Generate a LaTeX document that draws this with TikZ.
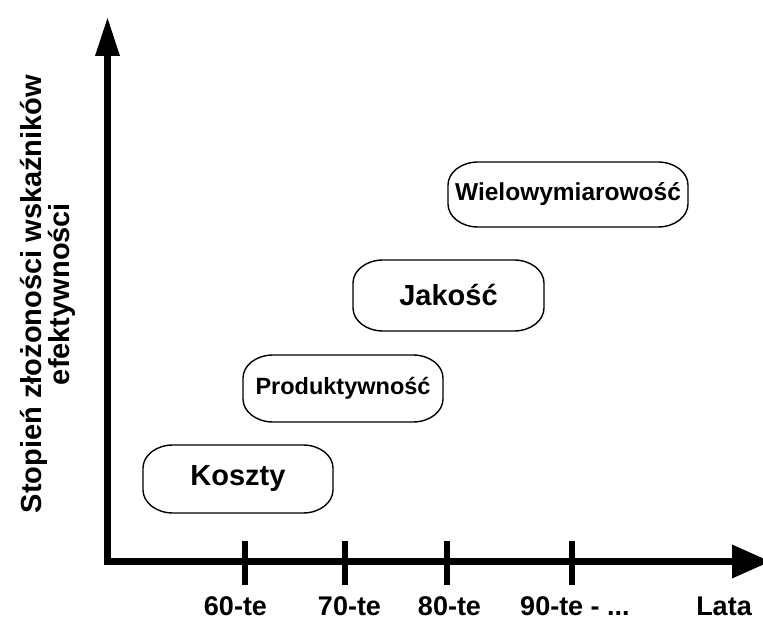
\documentclass[tikz,border=0pt]{standalone}
\usepackage{fontspec}
\setmainfont{Liberation Sans}
\usetikzlibrary{arrows.meta,calc}

% rounded box outline with elliptical corners: node, x radius, y radius
\newcommand\pilloutline[3]{%
  \draw[pillline] ($(#1.north west)+(#2,0)$) -- ($(#1.north east)+(-#2,0)$)
    arc[start angle=90,end angle=0,x radius=#2,y radius=#3]
    -- ($(#1.south east)+(0,#3)$)
    arc[start angle=0,end angle=-90,x radius=#2,y radius=#3]
    -- ($(#1.south west)+(#2,0)$)
    arc[start angle=270,end angle=180,x radius=#2,y radius=#3]
    -- ($(#1.north west)+(0,-#3)$)
    arc[start angle=180,end angle=90,x radius=#2,y radius=#3]
    -- cycle;}

\begin{document}
\begin{tikzpicture}[x=1pt,y=1pt,
  axis/.style={line width=7pt, line join=miter},
  tickmark/.style={line width=6pt},
  pill/.style={inner sep=0pt, outer sep=0pt},
  pillline/.style={line width=1.4pt},
  axislabel/.style={anchor=base, inner sep=0pt, font=\bfseries\fontsize{27}{28}\selectfont},
]
\useasboundingbox (0,0) rectangle (763,622);
\clip (0,0) rectangle (763,622);

% axes
\coordinate (origin) at (107.5,60.5);
\coordinate (ytip) at (107.5,604);
\coordinate (xtip) at (770,60.5);
\draw[axis, {Triangle[length=38pt,width=25pt,line width=0pt]}-{Triangle[length=38pt,width=34pt,line width=0pt]}]
  (ytip) -- (origin) -- (xtip);

% tick marks
\foreach \n/\x in {a/245,b/345,c/447,d/572}{
  \coordinate (tk\n top) at (\x,81);
  \coordinate (tk\n bot) at (\x,37);
  \draw[tickmark] (tk\n top) -- (tk\n bot);
}

% axis labels
\node[axislabel] (l60) at (235.5,7) {60-te};
\node[axislabel] (l70) at (349.5,7) {70-te};
\node[axislabel] (l80) at (449.5,7) {80-te};
\node[axislabel] (l90) at (575,7) {90-te - ...};
\node[axislabel] (lata) at (724,7) {Lata};

\node[rotate=90, align=center, inner sep=0pt, font=\bfseries\fontsize{29}{28}\selectfont]
  (ylabel) at (48,328) {Stopień złożoności wskaźników\\efektywności};

% stages
\node[pill, minimum width=190pt, minimum height=68pt, font=\bfseries\fontsize{29}{29}\selectfont]
  (koszty) at (238,143) {Koszty};
\node[pill, minimum width=200pt, minimum height=67pt, font=\bfseries\fontsize{23.5}{24}\selectfont]
  (prod) at (343,233.5) {Produktywność};
\node[pill, minimum width=191pt, minimum height=71pt, font=\bfseries\fontsize{29}{29}\selectfont]
  (jakosc) at (448.5,326.5) {Jakość};
\node[pill, minimum width=240pt, minimum height=65pt, font=\bfseries\fontsize{24.5}{25}\selectfont]
  (wielo) at (568,427.5) {Wielowymiarowość};

\foreach \b in {koszty,prod,jakosc,wielo}{\pilloutline{\b}{30}{23}}
\end{tikzpicture}
\end{document}
